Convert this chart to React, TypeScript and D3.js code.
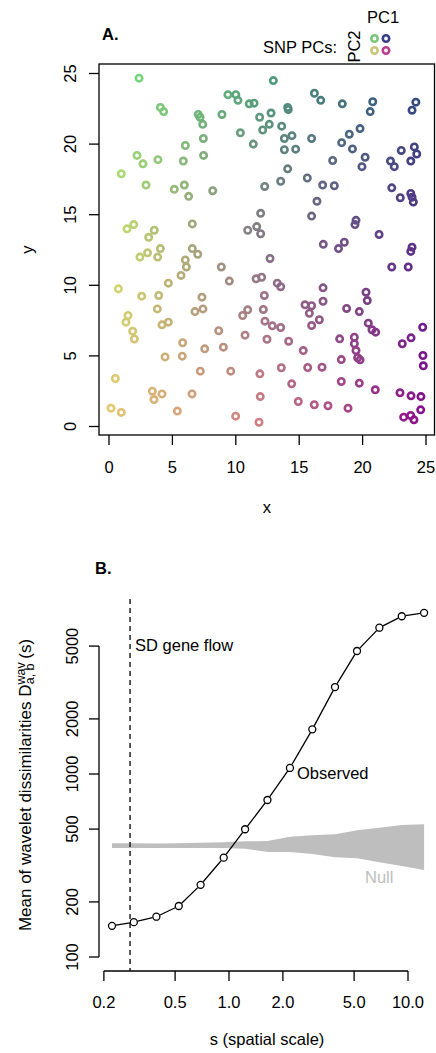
import React from "react";
import * as d3 from "d3";

// ---------- Panel A data: sample locations ----------
const pointX = [
  2.37, 4.05, 4.31, 7.04, 7.18, 7.39, 8.91, 9.38, 10.0, 10.17, 10.36, 7.44, 6.02, 7.46, 2.21, 2.68, 3.86, 5.86, 0.97, 2.92,
  5.15, 5.94, 6.28, 8.18, 1.42, 1.95, 3.57, 3.13, 6.57, 10.94, 2.44, 3.04, 3.84, 4.05, 6.57, 7.0, 6.02, 6.1, 5.68, 4.68,
  8.86, 9.49, 0.74, 2.58, 3.92, 3.81, 7.33, 6.78, 7.41, 10.54, 10.94, 1.5, 1.34, 1.87, 2.0, 4.18, 4.68, 8.65, 10.73, 5.81,
  5.78, 7.55, 9.02, 4.42, 0.5, 7.2, 9.6, 3.42, 3.55, 4.18, 6.55, 0.16, 0.97, 5.39, 9.99, 12.96, 16.2, 16.7, 18.4, 20.8,
  20.6, 24.2, 23.9, 11.06, 11.44, 11.88, 12.78, 12.64, 12.12, 11.38, 14.09, 14.14, 13.62, 13.83, 14.43, 13.83, 14.72, 15.98, 19.8, 18.95,
  18.35, 19.2, 20.2, 19.95, 17.64, 14.09, 13.54, 12.28, 15.64, 16.85, 17.77, 23.05, 24.08, 24.27, 23.8, 22.2, 22.5, 22.3, 22.97, 23.8,
  23.9, 24.0, 16.4, 15.98, 19.48, 19.4, 21.3, 11.96, 11.65, 11.96, 16.9, 18.56, 18.1, 23.9, 23.8, 12.7, 22.3, 23.6, 11.6, 12.04,
  13.27, 13.54, 12.25, 16.88, 16.88, 20.27, 20.37, 12.17, 15.46, 15.98, 15.8, 18.74, 19.74, 12.3, 12.88, 13.54, 16.59, 15.98, 20.45, 20.74,
  21.03, 24.74, 12.46, 14.17, 18.19, 19.35, 19.35, 19.48, 19.61, 19.8, 23.82, 23.13, 24.76, 24.79, 15.32, 11.9, 13.59, 15.67, 16.8, 18.32,
  14.41, 18.32, 19.74, 21.0, 11.93, 22.95, 23.82, 24.6, 14.93, 16.19, 17.27, 18.85, 24.58, 23.24, 23.79, 24.05, 11.83,
];
const pointY = [
  24.67, 22.6, 22.3, 22.1, 21.9, 21.4, 22.1, 23.5, 23.5, 23.1, 20.8, 20.4, 19.9, 19.2, 19.2, 18.6, 18.9, 18.8, 17.9, 17.1,
  16.8, 17.1, 16.3, 16.7, 14.0, 14.3, 13.9, 13.4, 14.35, 13.9, 12.0, 12.3, 12.0, 12.6, 12.6, 12.2, 11.8, 11.3, 10.7, 10.15,
  11.3, 10.3, 9.75, 9.23, 9.28, 8.33, 9.16, 8.14, 8.33, 7.86, 8.26, 7.86, 7.39, 6.75, 6.2, 7.2, 7.39, 6.78, 6.47, 5.93,
  4.98, 5.5, 5.62, 4.93, 3.4, 3.92, 3.92, 2.5, 1.91, 2.31, 2.31, 1.3, 1.0, 1.09, 0.73, 24.5, 23.6, 23.1, 22.85, 23.0,
  22.3, 22.97, 22.4, 22.85, 22.9, 21.9, 22.2, 21.4, 21.0, 20.0, 22.6, 22.45, 21.27, 20.4, 20.6, 19.6, 19.64, 20.4, 21.1, 20.7,
  20.1, 19.66, 19.07, 18.4, 18.84, 18.25, 17.37, 17.0, 17.6, 17.1, 17.05, 19.55, 19.8, 19.3, 18.8, 18.8, 18.4, 16.9, 16.2, 16.5,
  16.24, 15.9, 15.95, 14.9, 14.6, 14.3, 13.6, 15.1, 14.16, 13.65, 12.9, 13.05, 12.6, 12.7, 12.4, 11.9, 11.3, 11.3, 10.46, 10.57,
  10.15, 9.9, 9.28, 9.82, 8.87, 9.51, 8.92, 8.29, 8.62, 8.55, 8.02, 8.36, 8.14, 7.46, 7.13, 7.01, 7.56, 7.15, 7.32, 6.85,
  6.68, 7.03, 6.18, 6.04, 6.21, 6.32, 5.86, 5.38, 4.87, 4.72, 6.28, 5.86, 5.03, 4.3, 5.38, 3.73, 4.16, 4.18, 4.2, 4.74,
  3.02, 3.19, 3.07, 2.6, 2.12, 2.39, 2.17, 2.12, 1.77, 1.54, 1.47, 1.3, 1.18, 0.66, 0.78, 0.47, 0.3,
];
const axisTicksA = [0, 5, 10, 15, 20, 25];

// ---------- Panel B data ----------
const scales = [0.222, 0.294, 0.393, 0.524, 0.694, 0.934, 1.23, 1.64, 2.19, 2.92, 3.91, 5.19, 6.92, 9.23, 12.3];
const observed = [148, 155, 166, 190, 248, 349, 499, 721, 1079, 1754, 2986, 4700, 6300, 7280, 7600];
const nullUpper = [418, 418, 417, 418, 421, 424, 429, 430, 454, 462, 468, 492, 509, 526, 531];
const nullLower = [394, 394, 394, 394, 394, 394, 391, 375, 375, 366, 351, 346, 329, 314, 299];
const sdGeneFlow = 0.28;
const xTicksB = [0.2, 0.5, 1, 2, 5, 10];
const xTickLabelsB = ["0.2", "0.5", "1.0", "2.0", "5.0", "10.0"];
const yTicksB = [100, 200, 500, 1000, 2000, 5000];

// colour grid (rows: top y=25, mid, bottom y=0; cols: x=0, mid, x=25)
const colorGrid = [
  ["#7ee07e", "#4ba078", "#284b80"],
  ["#d0e26c", "#857088", "#5a2a86"],
  ["#e6c472", "#d07a84", "#8c0a8c"],
];
const legendColors = ["#78c878", "#3a3c8c", "#ccc67a", "#be3c8c"];

const FONT = "Liberation Sans, Arial, Helvetica, sans-serif";
const FS = 16.5;

function pointColor(x: number, y: number): string {
  const tx = Math.max(0, Math.min(2, (x / 25) * 2));
  const ty = Math.max(0, Math.min(2, ((25 - y) / 25) * 2));
  const ci = Math.min(1, Math.floor(tx));
  const ri = Math.min(1, Math.floor(ty));
  const fx = tx - ci;
  const fy = ty - ri;
  const top = d3.interpolateRgb(colorGrid[ri][ci], colorGrid[ri][ci + 1])(fx);
  const bot = d3.interpolateRgb(colorGrid[ri + 1][ci], colorGrid[ri + 1][ci + 1])(fx);
  return d3.interpolateRgb(top, bot)(fy);
}

export default function App() {
  // Panel A scales
  const xA = d3.scaleLinear().domain([0, 25]).range([109, 426]);
  const yA = d3.scaleLinear().domain([0, 25]).range([426.5, 73.5]);
  const boxA = { l: 99, t: 64, r: 434.5, b: 435 };

  // Panel B scales
  const xB = d3.scaleLog().domain([1, 10]).range([229, 408]);
  const yB = d3.scaleLog().domain([100, 1000]).range([957, 774]);
  const axisYB = 971;
  const axisXB = 99;

  const bandPts = scales.map((s, i) => ({ s, lo: nullLower[i], hi: nullUpper[i] }));
  const area = d3
    .area<{ s: number; lo: number; hi: number }>()
    .x((d) => xB(d.s))
    .y0((d) => yB(d.lo))
    .y1((d) => yB(d.hi))(bandPts) as string;

  const obsPts = scales.map((s, i) => [xB(s), yB(observed[i])] as [number, number]);
  const rB = 3.5;
  const segs: string[] = [];
  for (let i = 0; i < obsPts.length - 1; i++) {
    const [x1, y1] = obsPts[i];
    const [x2, y2] = obsPts[i + 1];
    const dx = x2 - x1;
    const dy = y2 - y1;
    const len = Math.hypot(dx, dy);
    const g = rB + 0.5;
    if (len > 2 * g) {
      segs.push(
        `M${x1 + (dx * g) / len},${y1 + (dy * g) / len}L${x2 - (dx * g) / len},${y2 - (dy * g) / len}`
      );
    }
  }

  const ringR = 3.2;
  const ringW = 2.6;

  return (
    <svg
      width={436}
      height={1053}
      style={{ position: "absolute", left: 0, top: 0, background: "#fff" }}
      fontFamily={FONT}
      fontSize={FS}
    >
      <rect x={0} y={0} width={436} height={1053} fill="#fff" />
      {/* ---------- Panel A ---------- */}
      <text x={102} y={40} fontWeight="bold">A.</text>
      <text x={337} y={53} textAnchor="end">SNP PCs:</text>
      <text x={367} y={23}>PC1</text>
      <text transform={`translate(360,46.5) rotate(-90)`} textAnchor="middle">PC2</text>
      {[
        [374.5, 38.5],
        [386, 38.5],
        [374.5, 50.5],
        [386, 50.5],
      ].map(([cx, cy], i) => (
        <circle key={i} cx={cx} cy={cy} r={ringR} fill="none" stroke={legendColors[i]} strokeWidth={ringW} />
      ))}

      <rect
        x={boxA.l}
        y={boxA.t}
        width={boxA.r - boxA.l}
        height={boxA.b - boxA.t}
        fill="none"
        stroke="#000"
        strokeWidth={1.3}
      />
      {pointX.map((x, i) => (
        <circle
          key={i}
          cx={xA(x)}
          cy={yA(pointY[i])}
          r={ringR}
          fill="none"
          stroke={pointColor(x, pointY[i])}
          strokeWidth={ringW}
        />
      ))}
      {axisTicksA.map((t) => (
        <g key={"xa" + t}>
          <line x1={xA(t)} x2={xA(t)} y1={boxA.b} y2={boxA.b + 10} stroke="#000" strokeWidth={1.3} />
          <text x={xA(t)} y={473} textAnchor="middle">{t}</text>
        </g>
      ))}
      {axisTicksA.map((t) => (
        <g key={"ya" + t}>
          <line x1={boxA.l - 10} x2={boxA.l} y1={yA(t)} y2={yA(t)} stroke="#000" strokeWidth={1.3} />
          <text transform={`translate(76,${yA(t)}) rotate(-90)`} textAnchor="middle">{t}</text>
        </g>
      ))}
      <text x={(boxA.l + boxA.r) / 2} y={513} textAnchor="middle">x</text>
      <text transform={`translate(33,${(boxA.t + boxA.b) / 2}) rotate(-90)`} textAnchor="middle">y</text>

      {/* ---------- Panel B ---------- */}
      <text x={95} y={574} fontWeight="bold">B.</text>
      <path d={area} fill="#bebebe" stroke="none" />
      <line
        x1={xB(sdGeneFlow)}
        x2={xB(sdGeneFlow)}
        y1={599}
        y2={axisYB}
        stroke="#000"
        strokeWidth={1.3}
        strokeDasharray="5,4"
      />
      <text x={xB(sdGeneFlow) + 5} y={651}>SD gene flow</text>
      <path d={segs.join("")} fill="none" stroke="#000" strokeWidth={1.3} />
      {obsPts.map(([cx, cy], i) => (
        <circle key={i} cx={cx} cy={cy} r={rB} fill="none" stroke="#000" strokeWidth={1.3} />
      ))}
      <text x={297} y={779}>Observed</text>
      <text x={365} y={883} fill="#bebebe">Null</text>

      {/* x axis */}
      <line x1={xB(xTicksB[0])} x2={xB(xTicksB[xTicksB.length - 1])} y1={axisYB} y2={axisYB} stroke="#000" strokeWidth={1.3} />
      {xTicksB.map((t, i) => (
        <g key={"xb" + t}>
          <line x1={xB(t)} x2={xB(t)} y1={axisYB} y2={axisYB + 10} stroke="#000" strokeWidth={1.3} />
          <text x={xB(t)} y={1008} textAnchor="middle">{xTickLabelsB[i]}</text>
        </g>
      ))}
      <text x={267} y={1045} textAnchor="middle">s (spatial scale)</text>

      {/* y axis */}
      <line x1={axisXB} x2={axisXB} y1={yB(yTicksB[0])} y2={yB(yTicksB[yTicksB.length - 1])} stroke="#000" strokeWidth={1.3} />
      {yTicksB.map((t) => (
        <g key={"yb" + t}>
          <line x1={axisXB - 10} x2={axisXB} y1={yB(t)} y2={yB(t)} stroke="#000" strokeWidth={1.3} />
          <text transform={`translate(78,${yB(t)}) rotate(-90)`} textAnchor="middle">{t}</text>
        </g>
      ))}
      <text transform={`translate(31,785) rotate(-90)`} textAnchor="middle" fontSize={17}>
        Mean of wavelet dissimilarities D
        <tspan fontSize={12.5} dy={-6.5}>wav</tspan>
        <tspan fontSize={12.5} dx={-22} dy={9.5}>a, b</tspan>
        <tspan dy={-3}> (s)</tspan>
      </text>
    </svg>
  );
}
